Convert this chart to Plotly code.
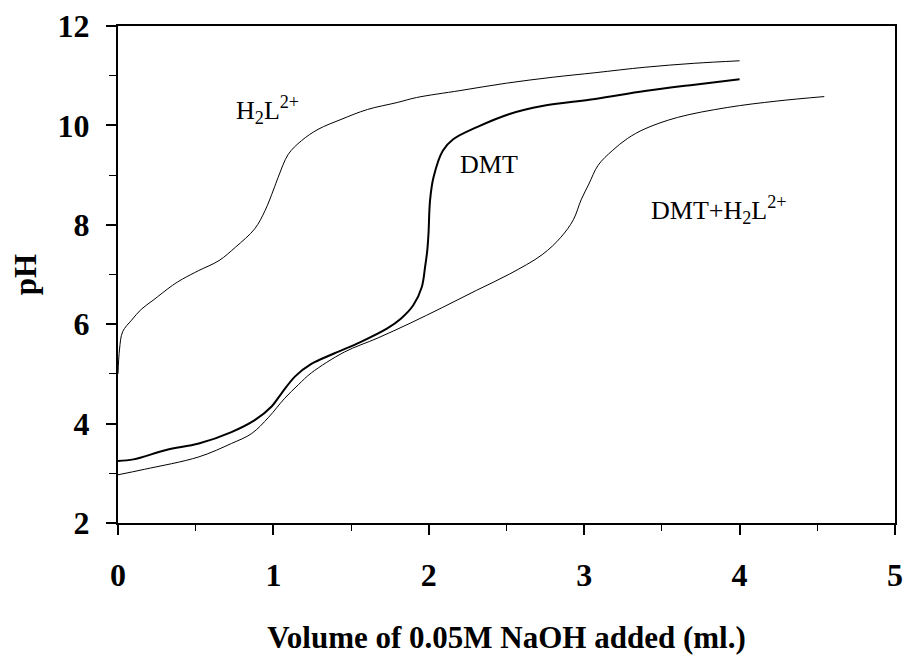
import plotly.graph_objects as go

# H2L^2+ titration
h2l_v = [0, 0.01, 0.03, 0.087, 0.15, 0.225, 0.35, 0.416, 0.52, 0.65, 0.756, 0.88, 0.947, 1.0, 1.03,
         1.096, 1.18, 1.287, 1.435, 1.605, 1.796, 1.92, 2.2, 2.5, 2.8, 3.07, 3.39, 3.71, 4.0]
h2l_ph = [5.0, 5.5, 5.85, 6.08, 6.3, 6.48, 6.78, 6.91, 7.08, 7.28, 7.55, 7.92, 8.29, 8.7, 8.95,
          9.42, 9.69, 9.92, 10.12, 10.32, 10.46, 10.56, 10.7, 10.85, 10.97, 11.06, 11.17, 11.25, 11.3]

# DMT titration
dmt_v = [0, 0.1, 0.31, 0.52, 0.73, 0.88, 0.99, 1.05, 1.14, 1.244, 1.39, 1.56, 1.73, 1.82, 1.90,
         1.955, 1.976, 1.99, 1.998, 2.008, 2.03, 2.09, 2.157, 2.306, 2.52, 2.73, 3.07, 3.39, 3.71, 4.0]
dmt_ph = [3.25, 3.28, 3.47, 3.6, 3.83, 4.07, 4.35, 4.6, 4.95, 5.2, 5.41, 5.64, 5.91, 6.11, 6.38,
          6.75, 7.15, 7.48, 7.82, 8.49, 8.95, 9.49, 9.72, 9.96, 10.23, 10.39, 10.53, 10.69, 10.82, 10.93]

# DMT + H2L^2+ titration
mix_v = [0, 0.17, 0.52, 0.73, 0.86, 0.97, 1.07, 1.16, 1.244, 1.457, 1.67, 1.88, 2.09, 2.306, 2.52,
         2.73, 2.85, 2.93, 2.98, 3.03, 3.09, 3.18, 3.28, 3.39, 3.60, 3.92, 4.24, 4.545]
mix_ph = [2.97, 3.08, 3.33, 3.6, 3.80, 4.13, 4.5, 4.78, 5.02, 5.44, 5.72, 6.02, 6.34, 6.68, 7.01,
          7.4, 7.75, 8.1, 8.5, 8.82, 9.2, 9.49, 9.74, 9.93, 10.16, 10.36, 10.49, 10.58]

x_ticks = [0, 1, 2, 3, 4, 5]
y_ticks = [2, 4, 6, 8, 10, 12]

FONT = "Liberation Serif, Times New Roman, serif"

fig = go.Figure()
fig.add_trace(go.Scatter(x=h2l_v, y=h2l_ph, mode="lines", line=dict(color="black", width=1),
                         line_shape="spline", showlegend=False))
fig.add_trace(go.Scatter(x=dmt_v, y=dmt_ph, mode="lines", line=dict(color="black", width=2),
                         line_shape="spline", showlegend=False))
fig.add_trace(go.Scatter(x=mix_v, y=mix_ph, mode="lines", line=dict(color="black", width=1),
                         line_shape="spline", showlegend=False))

fig.add_annotation(x=0.745, y=10.3, text="H<sub>2</sub>L<sup>2+</sup>", showarrow=False,
                   xanchor="left", yanchor="middle", font=dict(family=FONT, size=26, color="black"))
fig.add_annotation(x=2.39, y=9.21, text="DMT", showarrow=False,
                   xanchor="center", yanchor="middle", font=dict(family=FONT, size=26, color="black"))
fig.add_annotation(x=3.42, y=8.3, text="DMT+H<sub>2</sub>L<sup>2+</sup>", showarrow=False,
                   xanchor="left", yanchor="middle", font=dict(family=FONT, size=26, color="black"))

fig.update_layout(
    width=911, height=663,
    margin=dict(l=118, r=8, t=25, b=140),
    paper_bgcolor="white", plot_bgcolor="white",
    font=dict(family=FONT, color="black"),
)
fig.update_xaxes(
    range=[0, 5], tickvals=x_ticks, ticktext=[str(v) for v in x_ticks],
    showgrid=False, zeroline=False, showline=True, linecolor="black", linewidth=2, mirror=True,
    ticks="outside", ticklen=10, tickwidth=1.5, tickcolor="black",
    minor=dict(ticks="outside", ticklen=6, dtick=0.5, tick0=0, tickcolor="black", tickwidth=1),
    tickfont=dict(family=FONT, size=32, weight="bold", color="black"),
    ticklabelstandoff=13,
    title=dict(text="Volume of 0.05M NaOH added (ml.)", standoff=34,
               font=dict(family=FONT, size=31, weight="bold", color="black")),
)
fig.update_yaxes(
    range=[2, 12], tickvals=y_ticks, ticktext=[str(v) for v in y_ticks],
    showgrid=False, zeroline=False, showline=True, linecolor="black", linewidth=2, mirror=True,
    ticks="outside", ticklen=10, tickwidth=1.5, tickcolor="black",
    minor=dict(ticks="outside", ticklen=7, dtick=1, tick0=0, tickcolor="black", tickwidth=1),
    tickfont=dict(family=FONT, size=32, weight="bold", color="black"),
    ticklabelstandoff=10,
    title=dict(text="pH", standoff=12,
               font=dict(family=FONT, size=31, weight="bold", color="black")),
)

fig.write_html("out.html", config={"displayModeBar": False},
               post_script="document.body.style.margin='0';")
